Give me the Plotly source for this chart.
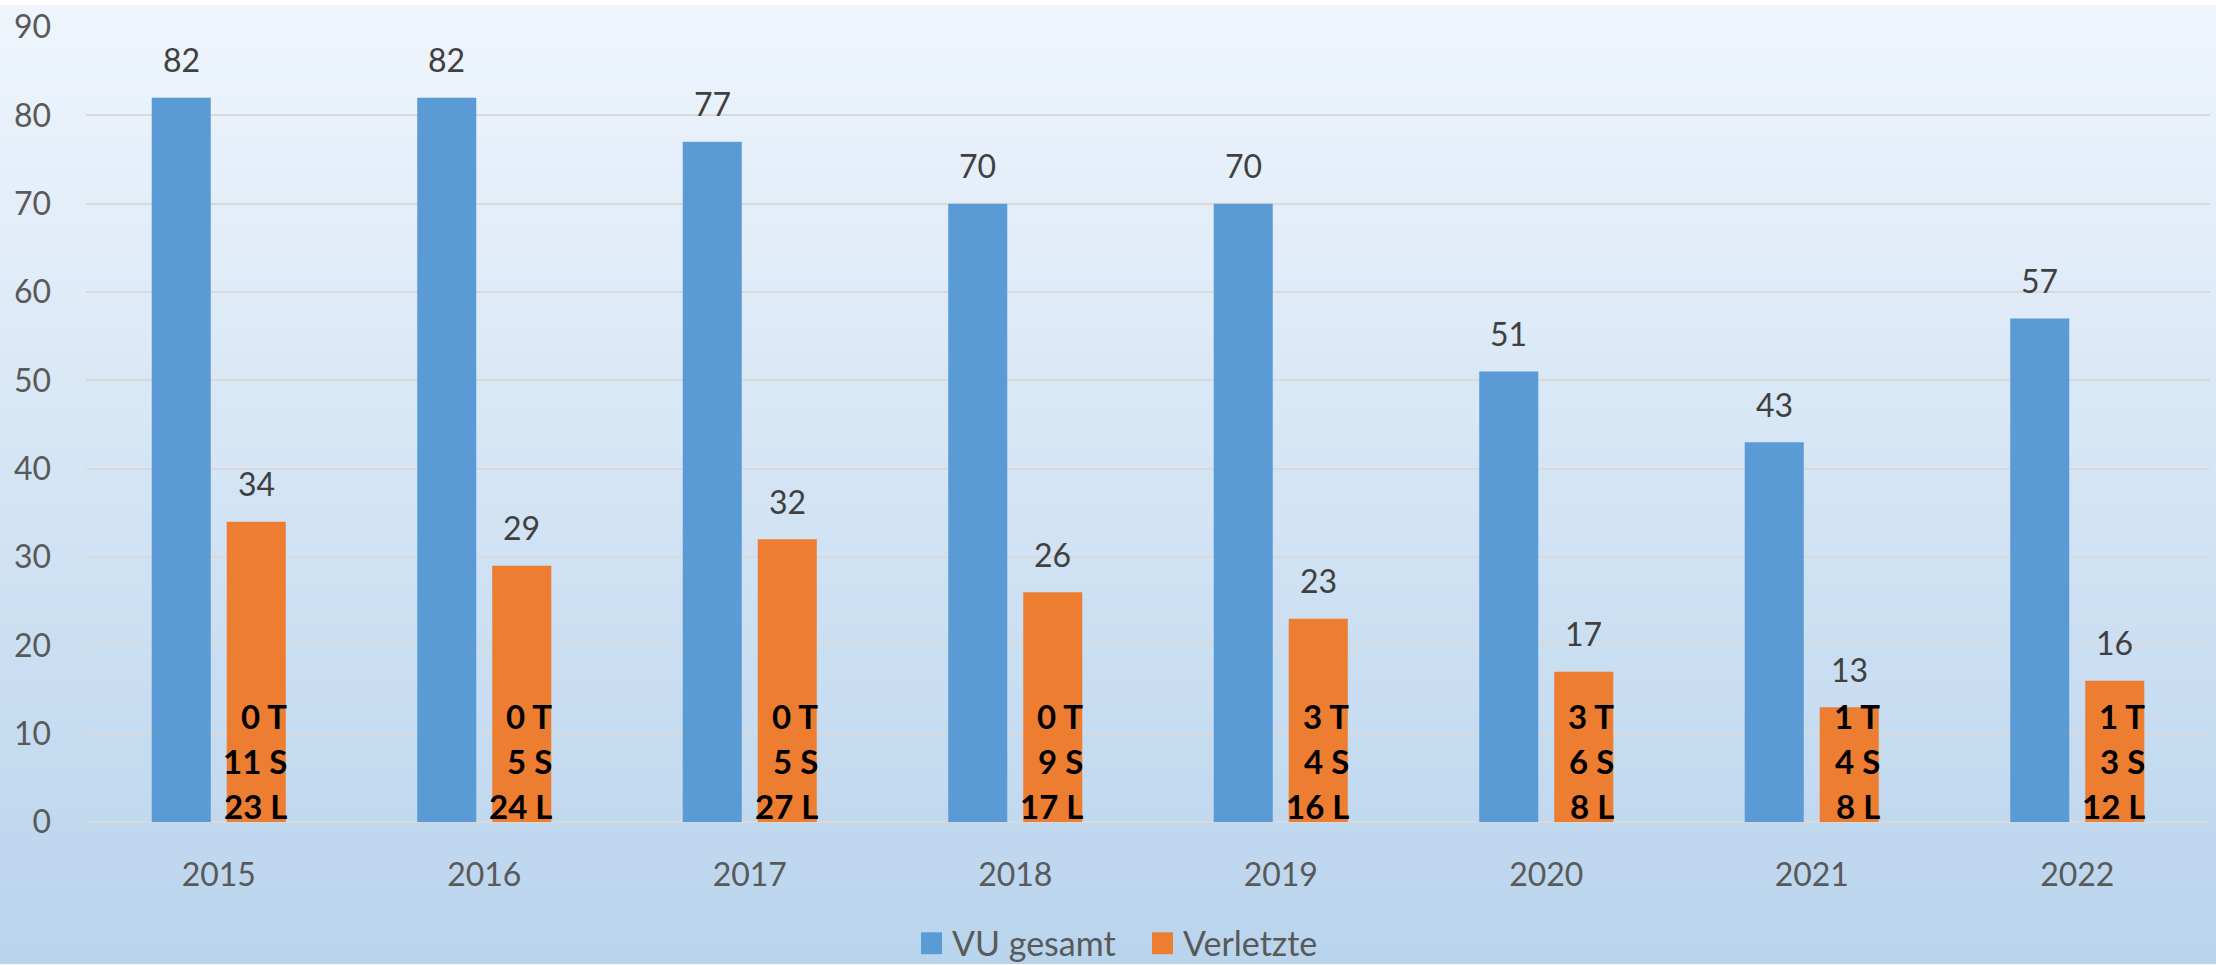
import base64, struct, zlib
import plotly.graph_objects as go

years = ["2015", "2016", "2017", "2018", "2019", "2020", "2021", "2022"]
vu_gesamt = [82, 82, 77, 70, 70, 51, 43, 57]
verletzte = [34, 29, 32, 26, 23, 17, 13, 16]
tote = [0, 0, 0, 0, 3, 3, 1, 1]
schwer = [11, 5, 5, 9, 4, 6, 4, 3]
leicht = [23, 24, 27, 17, 16, 8, 8, 12]
y_ticks = [0, 10, 20, 30, 40, 50, 60, 70, 80, 90]
series_names = ["VU gesamt", "Verletzte"]

W, H = 2216, 965
L, R, T, B = 86, 6, 22, 143
PW, PH = W - L - R, H - T - B

BLUE = "#5B9BD5"
ORANGE = "#ED7D31"
FONT = "Lato"


def px_x(p):
    return (p - L) / PW


def px_y(p):
    return (T + PH - p) / PH


def gradient_png(top, bottom, n=256):
    rows = b""
    for i in range(n):
        f = i / (n - 1)
        c = bytes(int(round(top[k] + (bottom[k] - top[k]) * f)) for k in range(3))
        rows += b"\x00" + c
    def chunk(tag, data):
        return struct.pack(">I", len(data)) + tag + data + struct.pack(">I", zlib.crc32(tag + data) & 0xffffffff)
    png = b"\x89PNG\r\n\x1a\n"
    png += chunk(b"IHDR", struct.pack(">IIBBBBB", 1, n, 8, 2, 0, 0, 0))
    png += chunk(b"IDAT", zlib.compress(rows))
    png += chunk(b"IEND", b"")
    return "data:image/png;base64," + base64.b64encode(png).decode()


fig = go.Figure()
fig.add_trace(go.Bar(x=years, y=vu_gesamt, name=series_names[0], marker=dict(color=BLUE, line=dict(width=0)),
                     showlegend=False))
fig.add_trace(go.Bar(x=years, y=verletzte, name=series_names[1], marker=dict(color=ORANGE, line=dict(width=0)),
                     showlegend=False))

ann = []
for i, yr in enumerate(years):
    ann.append(dict(x=i, y=vu_gesamt[i], text=str(vu_gesamt[i]), showarrow=False, xshift=-37.5,
                    yshift=38, yanchor="middle", font=dict(family=FONT, size=32, color="#404040")))
    ann.append(dict(x=i, y=verletzte[i], text=str(verletzte[i]), showarrow=False, xshift=37.5,
                    yshift=38, yanchor="middle", font=dict(family=FONT, size=32, color="#404040")))
    for txt, ys in ((f"{tote[i]} T", 106), (f"{schwer[i]} S", 61), (f"{leicht[i]} L", 16)):
        ann.append(dict(x=i, y=0, text=f"<b>{txt}</b>", showarrow=False, xshift=70, xanchor="right",
                        align="right", yshift=ys, yanchor="middle",
                        font=dict(family=FONT, size=33, color="#000000")))

# manual legend
shapes = []
for name, col, sq_x in ((series_names[0], BLUE, 921), (series_names[1], ORANGE, 1152)):
    shapes.append(dict(type="rect", xref="paper", yref="paper", x0=px_x(sq_x), x1=px_x(sq_x + 21),
                       y0=px_y(955), y1=px_y(933), fillcolor=col, line=dict(width=0)))
    ann.append(dict(xref="paper", yref="paper", x=px_x(sq_x + 29), y=px_y(943), text=name, showarrow=False,
                    xanchor="left", yanchor="middle", font=dict(family=FONT, size=34, color="#595959")))

fig.update_layout(
    width=W, height=H, autosize=False,
    margin=dict(l=L, r=R, t=T, b=B, pad=0),
    paper_bgcolor="rgba(0,0,0,0)", plot_bgcolor="rgba(0,0,0,0)",
    barmode="group", bargap=0.435, bargroupgap=0.213,
    font=dict(family=FONT, size=31, color="#595959"),
    showlegend=False,
    annotations=ann,
    shapes=shapes,
    images=[dict(source=gradient_png((239, 245, 252), (185, 212, 237)), xref="paper", yref="paper",
                 x=-L / PW, y=1 + T / PH, sizex=W / PW, sizey=H / PH, sizing="stretch",
                 xanchor="left", yanchor="top", layer="below")],
    xaxis=dict(type="category", range=[-0.5, len(years) - 0.5], showgrid=False, showline=False, ticks="",
               ticklabelstandoff=31, tickfont=dict(family=FONT, size=32, color="#595959")),
    yaxis=dict(range=[0, 90], tickvals=y_ticks, showgrid=True, gridcolor="#D9D9D9", gridwidth=1.6,
               zeroline=True, zerolinecolor="#D9D9D9", zerolinewidth=1.6, showline=False, ticks="",
               ticklabelstandoff=34, tickfont=dict(family=FONT, size=32, color="#595959")),
)

fig.write_html("out.html", config={"displayModeBar": False},
               post_script="document.body.style.margin='0';")
